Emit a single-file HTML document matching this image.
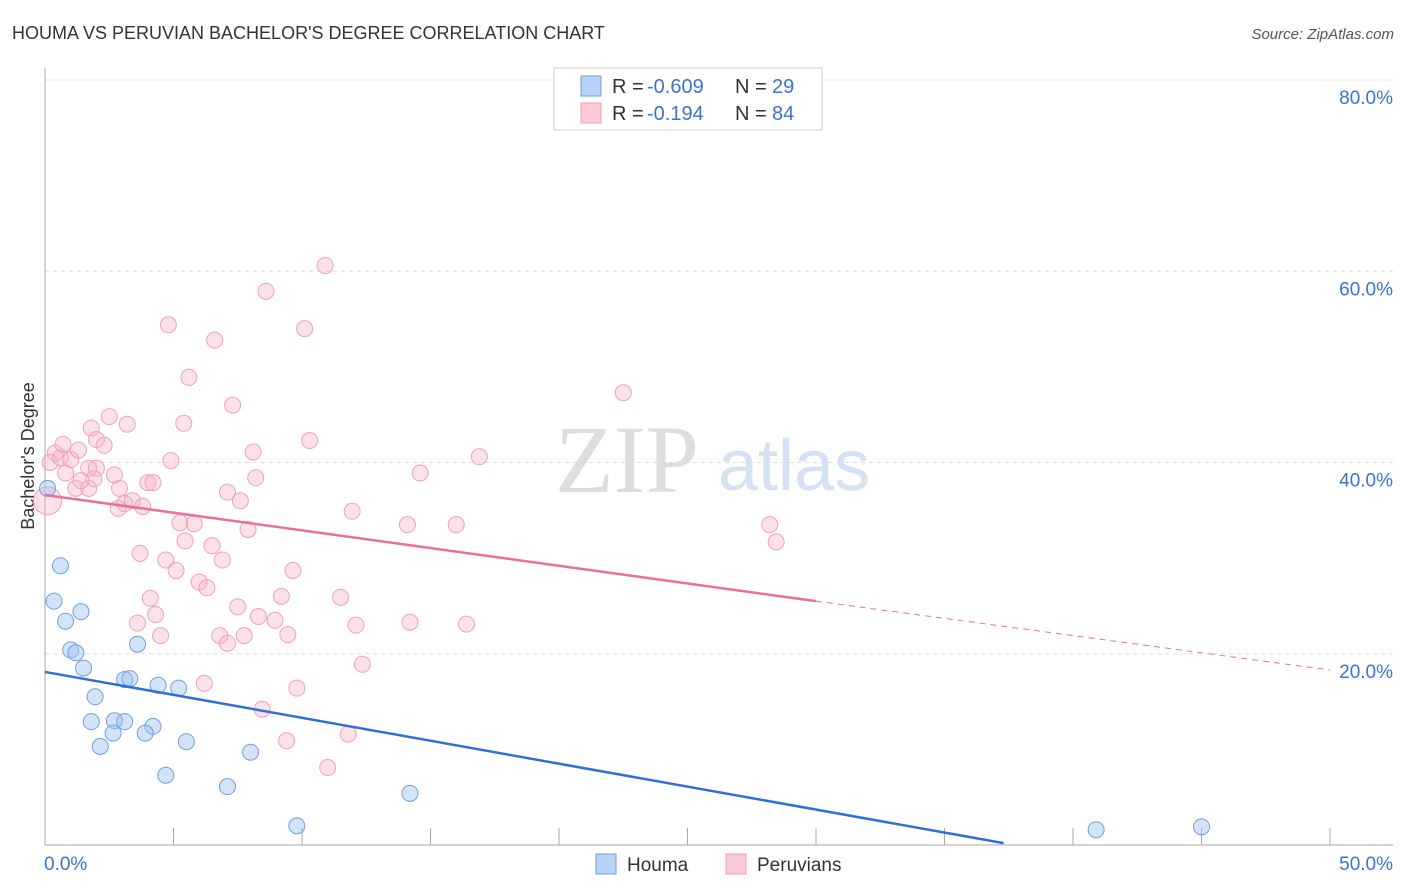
<!DOCTYPE html>
<html><head><meta charset="utf-8"><style>
body{margin:0;background:#fff;font-family:"Liberation Sans",sans-serif;}
svg{display:block}
</style></head><body>
<svg id="c" width="1406" height="892"></svg>
<script>
const houmaX=[0.1,0.6,0.35,0.8,1.4,1.0,1.2,1.5,3.6,1.95,3.1,3.3,4.4,5.2,1.8,2.7,3.1,2.65,4.2,3.9,2.15,5.5,8.0,4.7,7.1,14.2,9.8,40.9,45.0];
const houmaY=[37.3,29.2,25.5,23.4,24.4,20.4,20.1,18.5,21.0,15.5,17.3,17.4,16.7,16.4,12.9,13.0,12.9,11.7,12.4,11.7,10.3,10.8,9.7,7.3,6.1,5.4,2.0,1.6,1.9];
const peruX=[0.1,0.4,0.2,0.6,0.8,1.0,1.3,1.2,1.7,1.7,1.8,2.0,2.3,2.5,2.0,2.7,2.9,2.85,3.2,3.1,3.4,3.8,4.0,4.2,3.7,4.1,4.3,3.6,4.5,4.7,4.8,4.9,5.1,5.25,5.4,5.45,5.6,5.8,6.0,6.3,6.6,6.5,6.9,7.1,7.3,7.5,7.6,7.75,6.8,7.1,6.2,8.1,8.2,7.9,8.3,8.45,8.6,8.95,9.2,9.45,9.65,9.8,9.4,10.1,10.3,10.9,11.0,11.5,11.95,12.1,12.35,11.8,14.1,14.2,14.6,16.0,16.4,16.9,22.5,28.2,28.45,1.9,1.4,0.7];
const peruY=[36.0,41.0,40.0,40.5,38.9,40.3,41.3,37.3,37.3,39.4,43.6,42.4,41.8,44.8,39.4,38.7,37.3,35.2,44.0,35.7,36.0,35.4,37.9,37.9,30.5,25.8,24.1,23.2,21.9,29.8,54.4,40.2,28.7,33.7,44.1,31.8,48.9,33.6,27.5,26.9,52.8,31.3,29.8,36.9,46.0,24.9,36.0,21.9,21.9,21.1,16.9,41.1,38.4,33.0,23.9,14.2,57.9,23.5,26.0,22.0,28.7,16.4,10.9,54.0,42.3,60.6,8.1,25.9,34.9,23.0,18.9,11.6,33.5,23.3,38.9,33.5,23.1,40.6,47.3,33.5,31.7,38.3,38.1,41.9];
const NS="http://www.w3.org/2000/svg";
const svg=document.getElementById('c');
const X=v=>45+v*25.7, Y=v=>845-v*9.5625;
function mk(t,a,p){const e=document.createElementNS(NS,t);for(const k in a)e.setAttribute(k,a[k]);(p||svg).appendChild(e);return e;}
// title
let t=mk('text',{x:12,y:39,'font-size':18,fill:'#333'});t.textContent="HOUMA VS PERUVIAN BACHELOR'S DEGREE CORRELATION CHART";

t=mk('text',{x:1394,y:39,'font-size':15,fill:'#555','text-anchor':'end','font-style':'italic'});t.textContent="Source: ZipAtlas.com";

// grid
[20,40,60,80].forEach(v=>{const g=mk('line',{x1:45,x2:1393,y1:Y(v),y2:Y(v),stroke:'#ddd','stroke-dasharray':'4,4'});

const l=mk('text',{x:1393,y:Y(v)+24,'font-size':19,fill:'#3b73d1','text-anchor':'end'});l.textContent=v.toFixed(1)+'%';
});
// axes
let a=mk('line',{x1:45,x2:45,y1:68,y2:845,stroke:'#aaa'});
a=mk('line',{x1:45,x2:1393,y1:845,y2:845,stroke:'#aaa'});
for(let i=0;i<=10;i++){const k=mk('line',{x1:X(i*5),x2:X(i*5),y1:828,y2:845,stroke:'#aaa'});}
t=mk('text',{x:44,y:870,'font-size':19,fill:'#3b73d1'});t.textContent='0.0%';
t=mk('text',{x:1393,y:870,'font-size':19,fill:'#3b73d1','text-anchor':'end'});t.textContent='50.0%';
t=mk('text',{x:34,y:456,'font-size':18,fill:'#333','text-anchor':'middle',transform:'rotate(-90 34 456)'});t.textContent="Bachelor's Degree";

// watermark
t=mk('text',{x:555,y:492,'font-size':96,fill:'#ddd','font-family':'Liberation Serif'});t.textContent='ZIP';
t=mk('text',{x:718,y:490,'font-size':72,fill:'#d5e2f3'});t.textContent='atlas';
// points
peruX.forEach((v,i)=>{const r=(i==0)?14:8;const c=mk('circle',{cx:X(v),cy:Y(peruY[i]),r:r,fill:'rgba(248,180,200,0.4)',stroke:'#f0a0b8','stroke-width':1});
});
houmaX.forEach((v,i)=>{const c=mk('circle',{cx:X(v),cy:Y(houmaY[i]),r:8,fill:'rgba(160,195,240,0.45)',stroke:'#6f9fe0','stroke-width':1});
});
// trend lines
let l=mk('line',{x1:X(0),y1:Y(18.1),x2:X(37.3),y2:Y(0.2),stroke:'#2f6fd6','stroke-width':2.5});
l=mk('line',{x1:X(0),y1:Y(36.6),x2:X(30),y2:Y(25.5),stroke:'#e8709a','stroke-width':2.5});
l=mk('line',{x1:X(30),y1:Y(25.5),x2:X(50),y2:Y(18.3),stroke:'#e8709a','stroke-width':1,'stroke-dasharray':'6,5'});
// legend box
const lg=mk('g',{});
mk('rect',{x:554,y:68,width:268,height:62,fill:'#fff',stroke:'#ccc'},lg);
mk('rect',{x:581,y:76,width:20,height:20,fill:'#b8d3f5',stroke:'#6f9fe0'},lg);
mk('rect',{x:581,y:103,width:20,height:20,fill:'#fbc9d7',stroke:'#f0a0b8'},lg);
[['R = ','-0.609','29',93],['R = ',' -0.194','84',120]].forEach(r=>{
 let s=mk('text',{x:612,y:r[3],'font-size':20,fill:'#333'},lg);s.textContent=r[0];
 s=mk('text',{x:647,y:r[3],'font-size':20,fill:'#3b73d1','xml:space':'preserve'},lg);s.textContent=r[1];
 s=mk('text',{x:735,y:r[3],'font-size':20,fill:'#333'},lg);s.textContent='N = ';
 s=mk('text',{x:772,y:r[3],'font-size':20,fill:'#3b73d1'},lg);s.textContent=r[2];});
// bottom legend
const bl=mk('g',{});
mk('rect',{x:596,y:854,width:20,height:20,fill:'#b8d3f5',stroke:'#6f9fe0'},bl);
t=mk('text',{x:627,y:871,'font-size':19,fill:'#333'},bl);t.textContent='Houma';
mk('rect',{x:726,y:854,width:20,height:20,fill:'#fbc9d7',stroke:'#f0a0b8'},bl);
t=mk('text',{x:757,y:871,'font-size':19,fill:'#333'},bl);t.textContent='Peruvians';
</script>
</body></html>
